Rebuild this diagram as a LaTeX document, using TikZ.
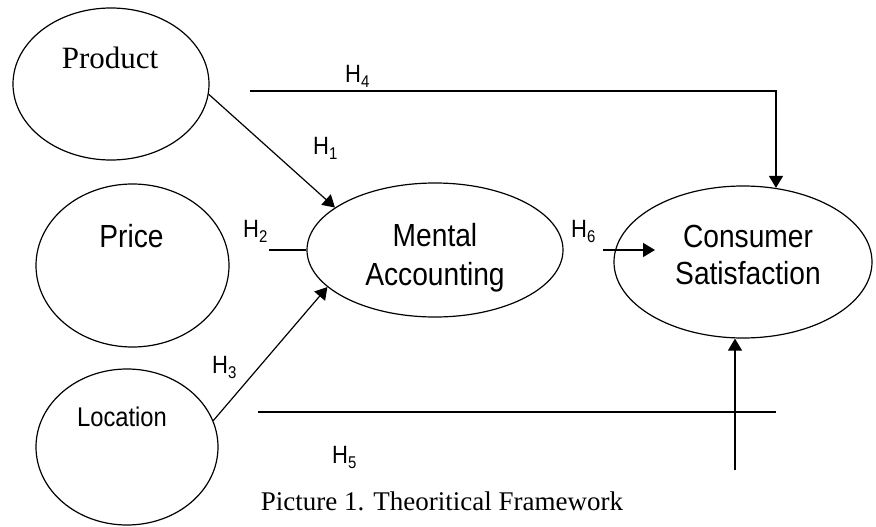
\documentclass[tikz,border=0pt]{standalone}
\usepackage{fontspec}
\setmainfont{Liberation Serif}
\newfontfamily\nsans[FakeStretch=0.88]{Liberation Sans}
\usetikzlibrary{shapes.geometric,arrows.meta}
\newcommand{\hsub}[1]{H\raisebox{-5pt}{\fontsize{17}{17}\selectfont #1}}
\begin{document}
\begin{tikzpicture}[x=1pt,y=-1pt,
  oval/.style={draw,ellipse,line width=1.2pt,inner sep=0pt},
  conn/.style={line width=1.2pt},
  arr/.style={conn,-{Triangle[length=12pt,width=14pt]}},
  bigsans/.style={font=\nsans\fontsize{32}{36}\selectfont,anchor=base,inner sep=0pt},
  locsans/.style={font=\nsans\fontsize{27}{30}\selectfont,anchor=base,inner sep=0pt},
  hlab/.style={font=\nsans\fontsize{25}{28}\selectfont,anchor=base west,inner sep=0pt},
  serif/.style={anchor=base,inner sep=0pt}]
\useasboundingbox (0,0) rectangle (876,527);
% ellipses
\node[oval,minimum width=196pt,minimum height=152pt] (prod) at (111,84) {};
\node[oval,minimum width=193pt,minimum height=163pt] (price) at (132.5,265.5) {};
\node[oval,minimum width=182pt,minimum height=156pt] (loc) at (127,447) {};
\node[oval,minimum width=256pt,minimum height=134pt] (ma) at (435,250) {};
\node[oval,minimum width=258pt,minimum height=152pt] (cs) at (743,262) {};
% texts
\node[serif,font=\fontsize{31}{34}\selectfont] (tprod) at (110,69) {Product};
\node[bigsans] (tprice) at (131.5,247) {Price};
\node[locsans] (tloc) at (122,426) {Location};
\node[bigsans] (tma1) at (435,246) {Mental};
\node[bigsans] (tma2) at (435,285) {Accounting};
\node[bigsans] (tcs1) at (748,247) {Consumer};
\node[bigsans] (tcs2) at (748,284) {Satisfaction};
\node[serif,font=\fontsize{27}{30}\selectfont] (cap) at (442,510) {Picture 1. Theoritical Framework};
% labels
\node[hlab] (h1) at (313,154) {\hsub{1}};
\node[hlab] (h2) at (243,237) {\hsub{2}};
\node[hlab] (h3) at (212,373) {\hsub{3}};
\node[hlab] (h4) at (345,83) {\hsub{4}};
\node[hlab] (h5) at (332,463) {\hsub{5}};
\node[hlab] (h6) at (571,237) {\hsub{6}};
% coordinates
\coordinate (h4s) at (250,91);
\coordinate (h4c) at (776,91);
\coordinate (h2s) at (269,250);
\coordinate (h5a) at (258,412);
\coordinate (h5c) at (776,412);
\coordinate (h5b) at (735,470);
\coordinate (h6a) at (603,250);
\coordinate (h6b) at (655,250);
% connectors
\draw[arr] (prod.-6.4) -- (ma.157.7);
\draw[conn] (h2s) -- (ma.west);
\draw[arr] (loc.17) -- (ma.199.4);
\draw[arr] (h4s) -- (h4c) -- (h4c |- cs.66);
\draw[conn] (h5a) -- (h5c);
\draw[arr] (h5b) -- (h5b |- cs.south);
\draw[arr] (h6a) -- (h6b);
\end{tikzpicture}
\end{document}
